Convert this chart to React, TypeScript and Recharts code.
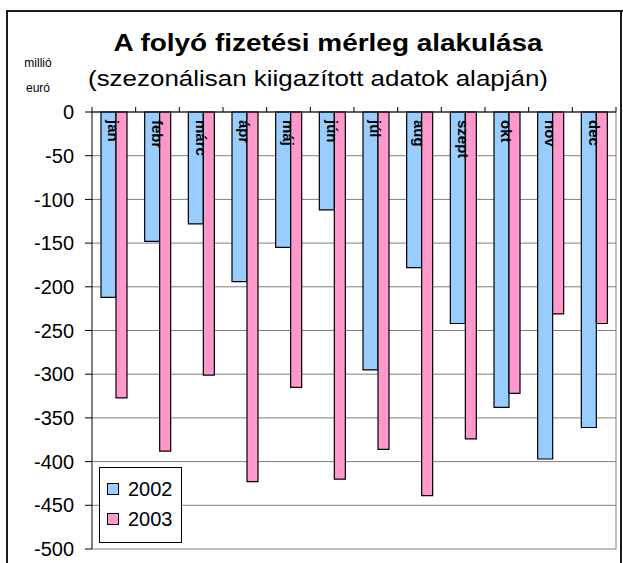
import { BarChart, Bar, XAxis, YAxis, CartesianGrid, Legend } from 'recharts';

const MONTHS = ['jan', 'febr', 'márc', 'ápr', 'máj', 'jún', 'júl', 'aug', 'szept', 'okt', 'nov', 'dec'];
const VALUES_2002 = [-212, -148, -128, -194, -155, -112, -295, -178, -242, -338, -397, -361];
const VALUES_2003 = [-327, -388, -301, -423, -315, -420, -386, -439, -374, -322, -231, -242];
const Y_TICKS = [0, -50, -100, -150, -200, -250, -300, -350, -400, -450, -500];

const W = 623;
const H = 563;
const X_AXIS_H = 10;
const MARGIN = { top: 112 - X_AXIS_H, right: 7, bottom: 14, left: 6 };
const Y_AXIS_W = 86;
const FONT = 'Liberation Sans, Arial, Helvetica, sans-serif';

const BAND = (W - MARGIN.left - MARGIN.right - Y_AXIS_W) / MONTHS.length;

const data = MONTHS.map((m, i) => ({ month: m, y2002: VALUES_2002[i], y2003: VALUES_2003[i] }));

// y here is the axis line (tickSize and tickMargin are 0)
function MonthTick(props: any) {
  const { x, y, payload, index } = props;
  const last = index === MONTHS.length - 1;
  return (
    <g>
      <line x1={x - BAND / 2} x2={x - BAND / 2} y1={y} y2={y - 5} stroke="#000" />
      {last && <line x1={x + BAND / 2} x2={x + BAND / 2} y1={y} y2={y - 5} stroke="#000" />}
      <text
        transform={`translate(${x},${y + 8}) rotate(90)`}
        textAnchor="start"
        dominantBaseline="central"
        fill="#000"
        style={{ fontFamily: FONT, fontSize: 15, fontWeight: 700 }}
      >
        {payload.value}
      </text>
    </g>
  );
}

function LegendBox({ payload }: any) {
  return (
    <div
      style={{
        width: 81,
        height: 74,
        border: '1px solid #000',
        background: '#fff',
        fontFamily: FONT,
        fontSize: 20,
        position: 'relative',
      }}
    >
      {(payload || []).map((p: any, i: number) => (
        <div key={p.value} style={{ position: 'absolute', left: 7, top: 9 + i * 30, display: 'flex', alignItems: 'center', lineHeight: '24px' }}>
          <span
            style={{
              display: 'inline-block',
              width: 10,
              height: 10,
              background: p.color,
              border: '1px solid #000',
              marginRight: 9,
            }}
          />
          <span>{p.value}</span>
        </div>
      ))}
    </div>
  );
}

export default function App() {
  return (
    <div style={{ position: 'absolute', left: 0, top: 0, width: W, height: H, overflow: 'hidden', background: '#fff', fontFamily: FONT }}>
      <div style={{ position: 'absolute', left: 0, top: 0 }}>
        <BarChart width={W} height={H} data={data} margin={MARGIN} barGap={0} barCategoryGap="20%">
          <CartesianGrid
            stroke="#808080"
            verticalCoordinatesGenerator={({ offset }: any) => [offset.left + offset.width]}
          />
          <YAxis
            type="number"
            domain={[-500, 0]}
            ticks={Y_TICKS}
            interval={0}
            width={Y_AXIS_W}
            tick={{ fill: '#000', fontSize: 20, fontFamily: FONT }}
            tickSize={7}
            tickMargin={11}
            axisLine={{ stroke: '#000' }}
            tickLine={{ stroke: '#000' }}
          />
          <Legend
            layout="vertical"
            align="center"
            verticalAlign="middle"
            wrapperStyle={{ left: 99, top: 467, width: 83, height: 76 }}
            content={LegendBox}
          />
          <Bar dataKey="y2002" name="2002" fill="#99CCFF" stroke="#000" strokeWidth={1.2} barSize={15} isAnimationActive={false} />
          <Bar dataKey="y2003" name="2003" fill="#FF99CC" stroke="#000" strokeWidth={1.2} barSize={11} isAnimationActive={false} />
          <XAxis
            dataKey="month"
            orientation="top"
            height={X_AXIS_H}
            interval={0}
            tickSize={0}
            tickMargin={0}
            tickLine={false}
            axisLine={{ stroke: '#000' }}
            tick={MonthTick}
          />
        </BarChart>
      </div>
      <svg width={W} height={H} style={{ position: 'absolute', left: 0, top: 0, pointerEvents: 'none' }}>
        <line x1={6} y1={11} x2={623} y2={11} stroke="#1a1a1a" strokeWidth={2} />
        <line x1={7} y1={10} x2={7} y2={563} stroke="#1a1a1a" strokeWidth={2} />
        <line x1={621} y1={10} x2={621} y2={563} stroke="#1a1a1a" strokeWidth={2} />
        <text x={328} y={51} textAnchor="middle" fontFamily={FONT} fontWeight="bold" fontSize={24} textLength={429} lengthAdjust="spacingAndGlyphs">
          A folyó fizetési mérleg alakulása
        </text>
        <text x={318} y={86} textAnchor="middle" fontFamily={FONT} fontSize={22} textLength={460} lengthAdjust="spacingAndGlyphs">
          (szezonálisan kiigazított adatok alapján)
        </text>
        <text x={38} y={67} textAnchor="middle" fontFamily={FONT} fontSize={12}>
          millió
        </text>
        <text x={38} y={92} textAnchor="middle" fontFamily={FONT} fontSize={12}>
          euró
        </text>
      </svg>
    </div>
  );
}
